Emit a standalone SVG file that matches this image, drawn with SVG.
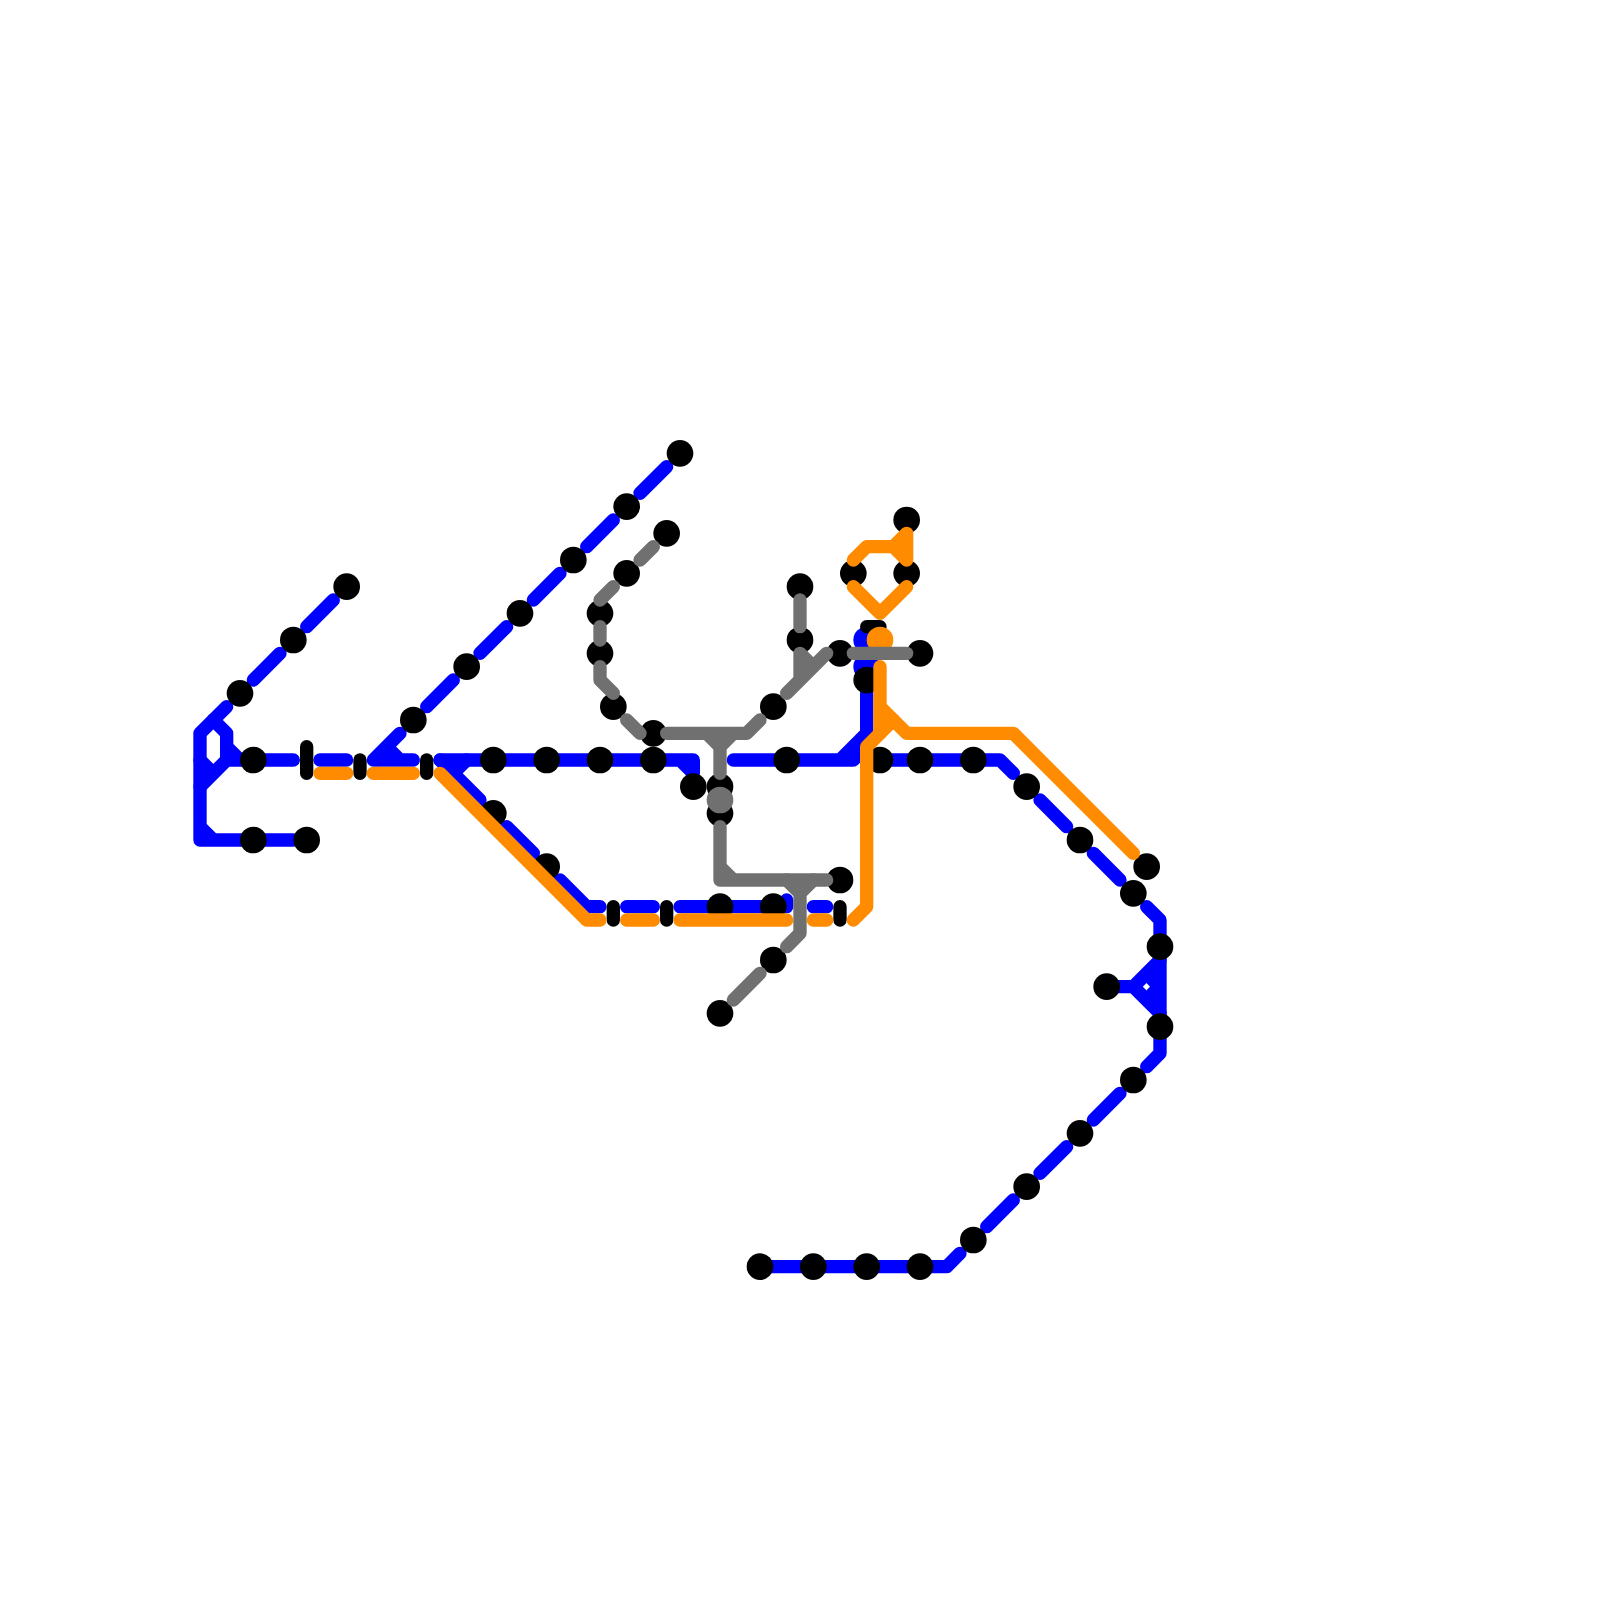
<svg xmlns="http://www.w3.org/2000/svg" width="1600" height="1600" viewBox="0 0 1600 1600">
<style>
.l{fill:none;stroke-width:13.33;stroke-linecap:round;stroke-linejoin:round}
.b{stroke:#0000ff}.o{stroke:#ff8c00}.g{stroke:#707070}.k{stroke:#000}
.s{fill:#000}
</style>
<rect width="1600" height="1600" fill="#fff"/>
<g id="connectors-blue" class="l b">
<path d="M226.67 706.67L200 733.33V840H213.33M200 826.67L213.33 840H293.33"/>
<path d="M213.33 720L226.67 733.33V760M226.67 746.67L240 760H293.33M200 786.67L226.67 760H240M200 760L213.33 773.33"/>
<path d="M253.33 680L280 653.33M306.67 626.67L333.33 600"/>
<path d="M320 760H346.67"/>
<path d="M400 733.33L373.33 760H413.33M386.67 746.67L400 760"/>
<path d="M426.67 706.67L453.33 680M480 653.33L506.67 626.67M533.33 600L560 573.33M586.67 546.67L613.33 520M640 493.33L666.67 466.67"/>
<path d="M440 760H693.33V773.33M680 760L693.33 773.33"/>
<path d="M440 760L480 800M453.33 773.33L466.67 760M506.67 826.67L533.33 853.33M560 880L586.67 906.67H600"/>
<path d="M626.67 906.67H653.33M680 906.67H786.67V900M813.33 906.67H826.67"/>
<path d="M733.33 760H853.33L866.67 746.67V680M840 760L866.67 733.33"/>
<path d="M880 760H1000L1013.33 773.33M1040 800L1066.67 826.67M1093.33 853.33L1120 880M1146.67 906.67L1160 920V1053.33L1146.67 1066.67"/>
<path d="M1106.67 986.67H1133.33L1160 960M1133.33 986.67L1160 1013.33"/>
<path d="M1146.67 983.33L1150 986.67L1146.67 990L1146 992L1160 1006V967L1146 981Z" style="fill:#0000ff;stroke:none"/>
<path d="M1120 1093.33L1093.33 1120M1066.67 1146.67L1040 1173.33M1013.33 1200L986.67 1226.67M960 1253.33L946.67 1266.67H760"/>
<circle cx="866.67" cy="640" r="13.33" style="fill:#0000ff;stroke:none"/>
<circle cx="866.67" cy="666.67" r="13.33" style="fill:#0000ff;stroke:none"/>
</g>
<g id="nodes">
<g id="n1"><circle class="s" cx="346.67" cy="586.67" r="13.33"/></g>
<g id="n2"><circle class="s" cx="293.33" cy="640" r="13.33"/></g>
<g id="n3"><circle class="s" cx="240" cy="693.33" r="13.33"/></g>
<g id="n4"><circle class="s" cx="253.33" cy="760" r="13.33"/></g>
<g id="n5"><circle class="s" cx="253.33" cy="840" r="13.33"/></g>
<g id="n6"><circle class="s" cx="306.67" cy="840" r="13.33"/></g>
<g id="n7"><circle class="s" cx="413.33" cy="720" r="13.33"/></g>
<g id="n8"><circle class="s" cx="466.67" cy="666.67" r="13.33"/></g>
<g id="n9"><circle class="s" cx="520" cy="613.33" r="13.33"/></g>
<g id="n10"><circle class="s" cx="573.33" cy="560" r="13.33"/></g>
<g id="n11"><circle class="s" cx="626.67" cy="506.67" r="13.33"/></g>
<g id="n12"><circle class="s" cx="680" cy="453.33" r="13.33"/></g>
<g id="n13"><circle class="s" cx="493.33" cy="760" r="13.33"/></g>
<g id="n14"><circle class="s" cx="546.67" cy="760" r="13.33"/></g>
<g id="n15"><circle class="s" cx="600" cy="760" r="13.33"/></g>
<g id="n16"><circle class="s" cx="653.33" cy="760" r="13.33"/></g>
<g id="n17"><circle class="s" cx="693.33" cy="786.67" r="13.33"/></g>
<g id="n18"><circle class="s" cx="493.33" cy="813.33" r="13.33"/></g>
<g id="n19"><circle class="s" cx="546.67" cy="866.67" r="13.33"/></g>
<g id="n20"><circle class="s" cx="720" cy="906.67" r="13.33"/></g>
<g id="n21"><circle class="s" cx="773.33" cy="906.67" r="13.33"/></g>
<g id="n22"><circle class="s" cx="786.67" cy="760" r="13.33"/></g>
<g id="n23"><circle class="s" cx="880" cy="760" r="13.33"/></g>
<g id="n24"><circle class="s" cx="920" cy="760" r="13.33"/></g>
<g id="n25"><circle class="s" cx="973.33" cy="760" r="13.33"/></g>
<g id="n26"><circle class="s" cx="1026.67" cy="786.67" r="13.33"/></g>
<g id="n27"><circle class="s" cx="1080" cy="840" r="13.33"/></g>
<g id="n28"><circle class="s" cx="1133.33" cy="893.33" r="13.33"/></g>
<g id="n29"><circle class="s" cx="1146.67" cy="866.67" r="13.33"/></g>
<g id="n30"><circle class="s" cx="1160" cy="946.67" r="13.33"/></g>
<g id="n31"><circle class="s" cx="1160" cy="1026.67" r="13.33"/></g>
<g id="n32"><circle class="s" cx="1106.67" cy="986.67" r="13.33"/></g>
<g id="n33"><circle class="s" cx="1133.33" cy="1080" r="13.33"/></g>
<g id="n34"><circle class="s" cx="1080" cy="1133.33" r="13.33"/></g>
<g id="n35"><circle class="s" cx="1026.67" cy="1186.67" r="13.33"/></g>
<g id="n36"><circle class="s" cx="973.33" cy="1240" r="13.33"/></g>
<g id="n37"><circle class="s" cx="920" cy="1266.67" r="13.33"/></g>
<g id="n38"><circle class="s" cx="866.67" cy="1266.67" r="13.33"/></g>
<g id="n39"><circle class="s" cx="813.33" cy="1266.67" r="13.33"/></g>
<g id="n40"><circle class="s" cx="760" cy="1266.67" r="13.33"/></g>
<g id="n41"><circle class="s" cx="666.67" cy="533.33" r="13.33"/></g>
<g id="n42"><circle class="s" cx="626.67" cy="573.33" r="13.33"/></g>
<g id="n43"><circle class="s" cx="600" cy="613.33" r="13.33"/></g>
<g id="n44"><circle class="s" cx="600" cy="653.33" r="13.33"/></g>
<g id="n45"><circle class="s" cx="613.33" cy="706.67" r="13.33"/></g>
<g id="n46"><circle class="s" cx="653.33" cy="733.33" r="13.33"/></g>
<g id="n47"><circle class="s" cx="773.33" cy="706.67" r="13.33"/></g>
<g id="n48"><circle class="s" cx="720" cy="786.67" r="13.33"/></g>
<g id="n49"><circle class="s" cx="720" cy="813.33" r="13.33"/></g>
<g id="n50"><circle class="s" cx="840" cy="880" r="13.33"/></g>
<g id="n51"><circle class="s" cx="773.33" cy="960" r="13.33"/></g>
<g id="n52"><circle class="s" cx="720" cy="1013.33" r="13.33"/></g>
<g id="n53"><circle class="s" cx="800" cy="586.67" r="13.33"/></g>
<g id="n54"><circle class="s" cx="800" cy="640" r="13.33"/></g>
<g id="n55"><circle class="s" cx="840" cy="653.33" r="13.33"/></g>
<g id="n56"><circle class="s" cx="920" cy="653.33" r="13.33"/></g>
<g id="n57"><circle class="s" cx="853.33" cy="573.33" r="13.33"/></g>
<g id="n58"><circle class="s" cx="906.67" cy="573.33" r="13.33"/></g>
<g id="n59"><circle class="s" cx="906.67" cy="520" r="13.33"/></g>
<g id="n60"><circle class="s" cx="866.67" cy="680" r="13.33"/></g>
<g id="pill0"><path class="l k" d="M866.67 626.67H880"/></g>
<g id="pill1"><path class="l k" d="M306.67 746.67V773.33"/></g>
<g id="pill2"><path class="l k" d="M360 760V773.33"/></g>
<g id="pill3"><path class="l k" d="M426.67 760V773.33"/></g>
<g id="pill4"><path class="l k" d="M613.33 906.67V920"/></g>
<g id="pill5"><path class="l k" d="M666.67 906.67V920"/></g>
<g id="pill6"><path class="l k" d="M840 906.67V920"/></g>
<g id="n61"><circle cx="880" cy="640" r="13.33" fill="#ff8c00"/></g>
</g>
<g id="connectors-orange" class="l o">
<path d="M320 773.33H346.67M373.33 773.33H413.33"/>
<path d="M440 773.33L586.67 920H600M626.67 920H653.33M680 920H786.67M813.33 920H826.67"/>
<path d="M853.33 920L866.67 906.67V746.67L893.33 720"/>
<path d="M880 666.67V733.33M880 706.67L906.67 733.33H1013.33L1133.33 853.33"/>
<path d="M853.33 560L866.67 546.67H893.33L906.67 560V533.33L893.33 546.67"/>
<path d="M853.33 586.67L880 613.33L906.67 586.67"/>
</g>
<g id="n62"><circle cx="720" cy="800" r="13.33" fill="#707070"/></g>
<g id="connectors-gray" class="l g">
<path d="M653.33 546.67L640 560M613.33 586.67L600 600M600 626.67V640M600 666.67V680L613.33 693.33M626.67 720L640 733.33"/>
<path d="M666.67 733.33H746.67L760 720M706.67 733.33L720 746.67V773.33M733.33 733.33L720 746.67"/>
<path d="M720 826.67V880H826.67M720 866.67L733.33 880"/>
<path d="M786.67 880L800 893.33V933.33L786.67 946.67M813.33 880L800 893.33M760 973.33L733.33 1000"/>
<path d="M800 600V626.67M800 653.33V680M786.67 693.33L826.67 653.33M800 653.33L813.33 666.67M853.33 653.33H906.67"/>
</g>
</svg>
